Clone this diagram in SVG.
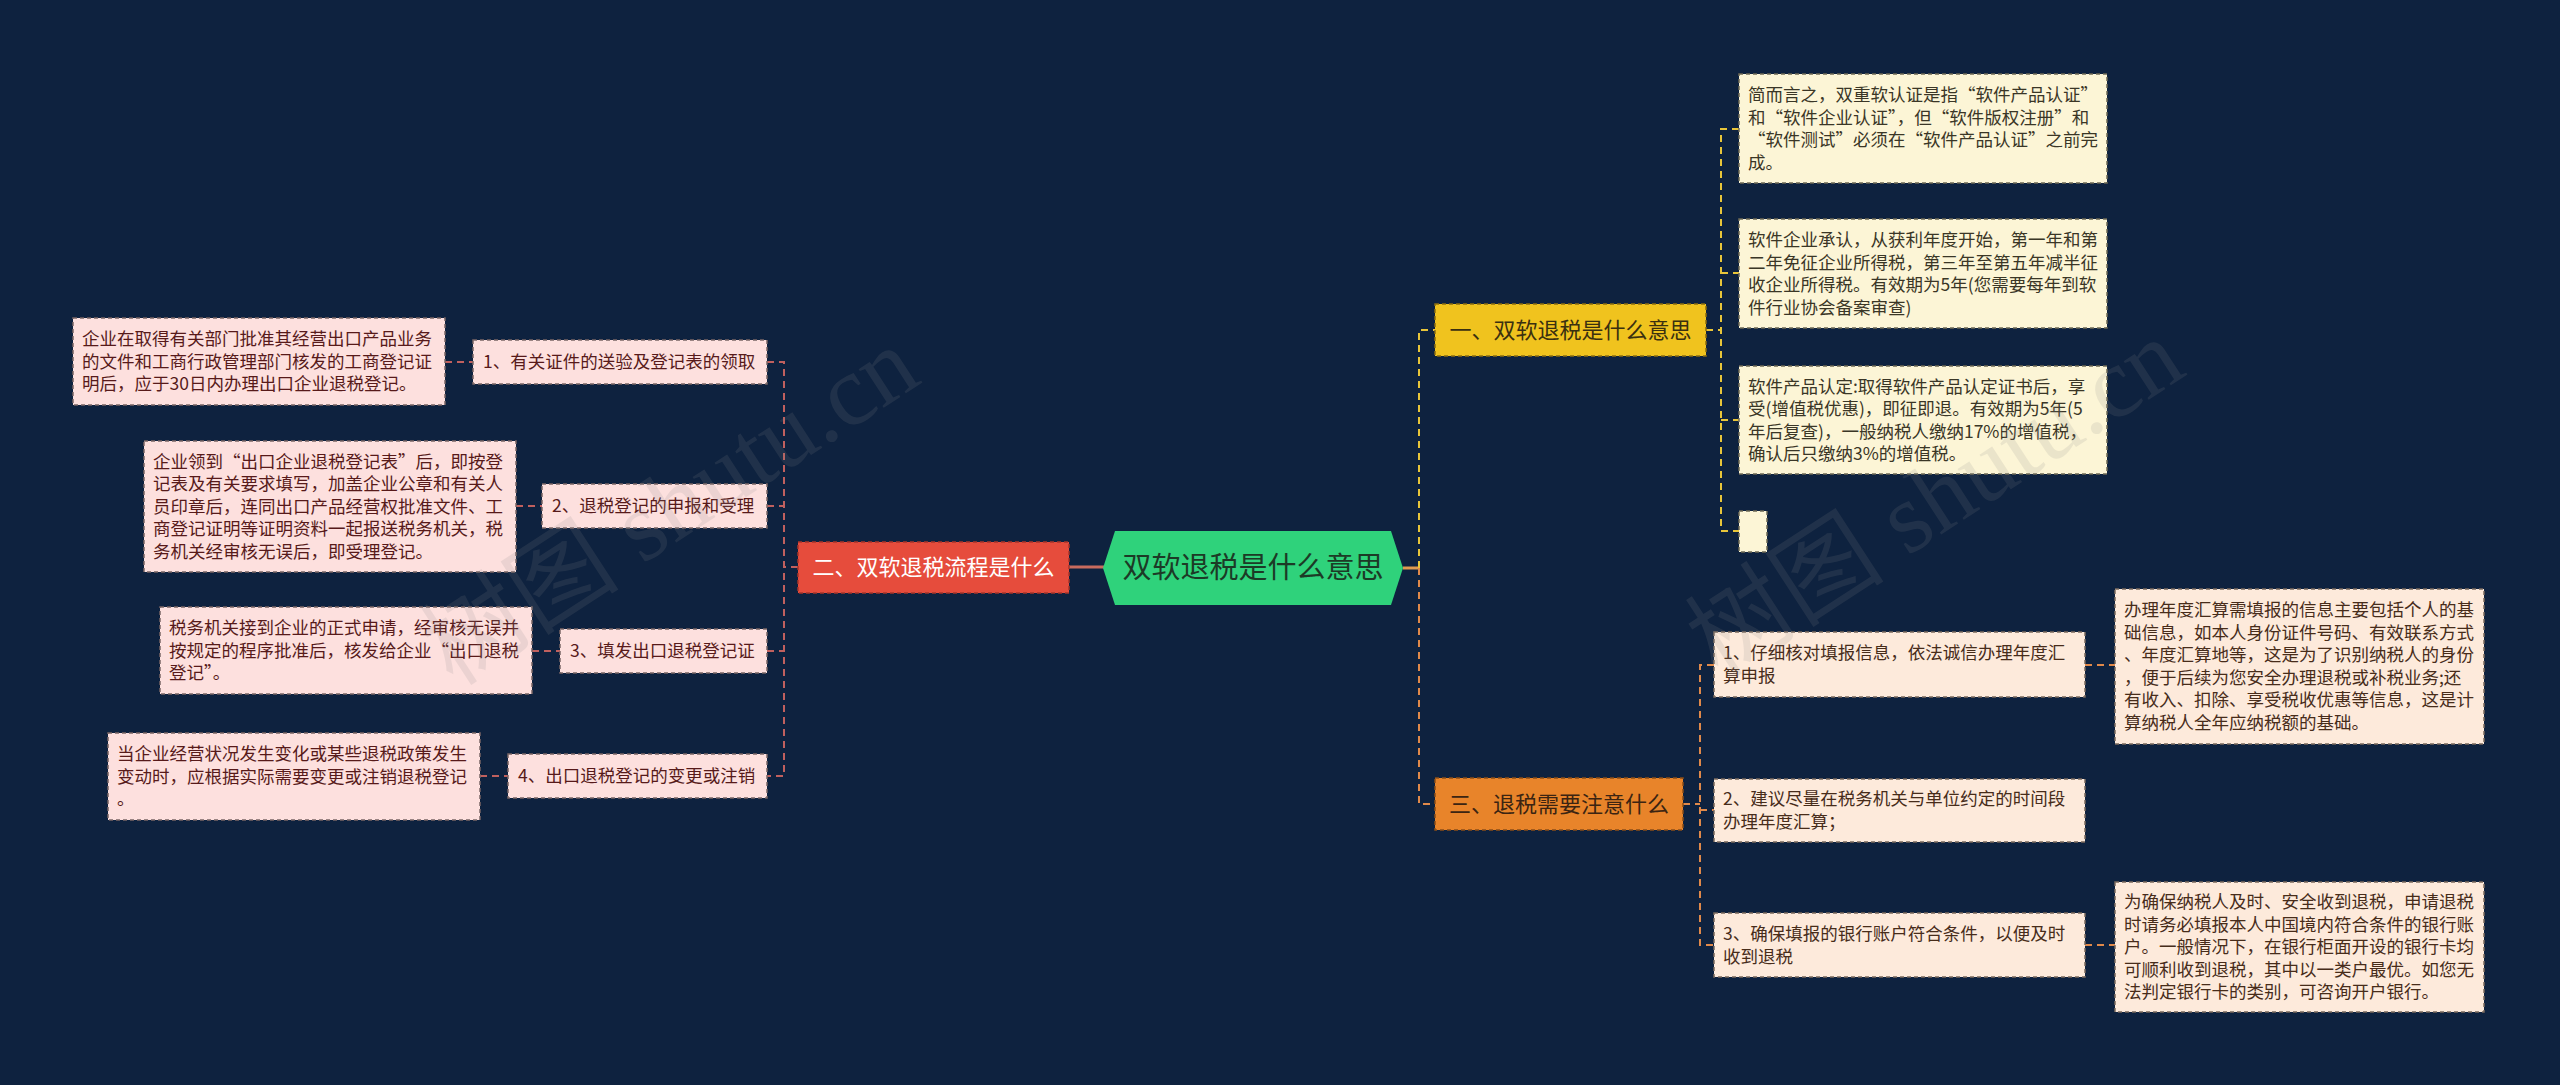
<svg xmlns="http://www.w3.org/2000/svg" width="2560" height="1085" viewBox="0 0 2560 1085">
<style>
text{font-family:"Noto Sans CJK SC","Noto Sans",sans-serif;}
.leaf{font-size:17.5px;}
.yl rect{fill:#fcf5d6;stroke:#6e6a55;stroke-width:1.5;stroke-dasharray:4 3;}
.yl text{fill:#3a3626;}
.ol rect{fill:#fdeadb;stroke:#7a6a5e;stroke-width:1.5;stroke-dasharray:4 3;}
.ol text{fill:#472c1a;}
.rl rect{fill:#fde0de;stroke:#7a6666;stroke-width:1.5;stroke-dasharray:4 3;}
.rl text{fill:#571a1a;}
.main{font-size:22px;}
.cy{stroke:#e8c53a;stroke-width:2;stroke-dasharray:7 5;fill:none;}
.co{stroke:#e0894a;stroke-width:2;stroke-dasharray:7 5;fill:none;}
.cr{stroke:#c0605e;stroke-width:2;stroke-dasharray:7 5;fill:none;}
.wm{font-family:"Liberation Serif","Noto Sans CJK SC",serif;font-size:100px;fill:#8a8a8a;opacity:0.15;}
</style>
<rect width="2560" height="1085" fill="#0e223f"/>

<g id="connectors">
  <line x1="1069" y1="567" x2="1104" y2="567" stroke="#c86b5e" stroke-width="3"/>
  <line x1="1403" y1="568" x2="1419" y2="568" stroke="#e09a50" stroke-width="3"/>
  <path class="cy" d="M1419 568 V330 H1435"/>
  <path class="co" d="M1419 568 V804 H1435"/>
  <path class="cy" d="M1706 330 H1721"/>
  <path class="cy" d="M1739 129 H1721 V531 H1739 M1721 273 H1739 M1721 420 H1739"/>
  <path class="co" d="M1683 804 H1700"/>
  <path class="co" d="M1714 665 H1700 V945 H1714 M1700 810 H1714"/>
  <path class="co" d="M2085 665 H2115 M2085 945 H2115"/>
  <path class="cr" d="M798 567 H784"/>
  <path class="cr" d="M767 362 H784 V776 H767 M767 506 H784 M767 651 H784"/>
  <path class="cr" d="M445 362 H473 M516 506 H542 M532 651 H560 M480 776 H508"/>
</g>

<g id="center">
  <polygon points="1103,568 1115,531 1391,531 1403,568 1391,605 1115,605" fill="#2fd27b"/>
  <text x="1253" y="578" text-anchor="middle" font-size="29" fill="#1c3a26">双软退税是什么意思</text>
</g>

<g id="n-red">
  <rect x="798" y="542" width="271" height="51" fill="#e64c3c" stroke="#a8352a" stroke-width="1.5" stroke-dasharray="4 3"/>
  <text class="main" x="933.5" y="575" text-anchor="middle" fill="#ffffff">二、双软退税流程是什么</text>
</g>
<g id="n-yellow">
  <rect x="1435" y="304" width="271" height="52" fill="#f0c31e" stroke="#8a6e10" stroke-width="1.5" stroke-dasharray="4 3"/>
  <text class="main" x="1570.5" y="338" text-anchor="middle" fill="#3a3010">一、双软退税是什么意思</text>
</g>
<g id="n-orange">
  <rect x="1435" y="778" width="248" height="52" fill="#e8842a" stroke="#8a4e18" stroke-width="1.5" stroke-dasharray="4 3"/>
  <text class="main" x="1559" y="812" text-anchor="middle" fill="#3b2412">三、退税需要注意什么</text>
</g>

<g id="y1" class="yl">
  <rect x="1739" y="74" width="368" height="109"/>
  <text class="leaf"><tspan x="1748" y="101">简而言之，双重软认证是指“软件产品认证”</tspan><tspan x="1748" y="123.5">和“软件企业认证”，但“软件版权注册”和</tspan><tspan x="1748" y="146">“软件测试”必须在“软件产品认证”之前完</tspan><tspan x="1748" y="168.5">成。</tspan></text>
</g>
<g id="y2" class="yl">
  <rect x="1739" y="219" width="368" height="109"/>
  <text class="leaf"><tspan x="1748" y="246">软件企业承认，从获利年度开始，第一年和第</tspan><tspan x="1748" y="268.5">二年免征企业所得税，第三年至第五年减半征</tspan><tspan x="1748" y="291">收企业所得税。有效期为5年(您需要每年到软</tspan><tspan x="1748" y="313.5">件行业协会备案审查)</tspan></text>
</g>
<g id="y3" class="yl">
  <rect x="1739" y="366" width="368" height="108"/>
  <text class="leaf"><tspan x="1748" y="392.5">软件产品认定:取得软件产品认定证书后，享</tspan><tspan x="1748" y="415">受(增值税优惠)，即征即退。有效期为5年(5</tspan><tspan x="1748" y="437.5">年后复查)，一般纳税人缴纳17%的增值税，</tspan><tspan x="1748" y="460">确认后只缴纳3%的增值税。</tspan></text>
</g>
<g id="y4" class="yl">
  <rect x="1739" y="511" width="28" height="41"/>
</g>

<g id="o1" class="ol">
  <rect x="1714" y="632" width="371" height="65"/>
  <text class="leaf"><tspan x="1723" y="659">1、仔细核对填报信息，依法诚信办理年度汇</tspan><tspan x="1723" y="681.5">算申报</tspan></text>
</g>
<g id="o2" class="ol">
  <rect x="1714" y="779" width="371" height="63"/>
  <text class="leaf"><tspan x="1723" y="805">2、建议尽量在税务机关与单位约定的时间段</tspan><tspan x="1723" y="827.5">办理年度汇算；</tspan></text>
</g>
<g id="o3" class="ol">
  <rect x="1714" y="913" width="371" height="64"/>
  <text class="leaf"><tspan x="1723" y="940">3、确保填报的银行账户符合条件，以便及时</tspan><tspan x="1723" y="962.5">收到退税</tspan></text>
</g>
<g id="d1" class="ol">
  <rect x="2115" y="589" width="369" height="155"/>
  <text class="leaf"><tspan x="2124" y="616">办理年度汇算需填报的信息主要包括个人的基</tspan><tspan x="2124" y="638.5">础信息，如本人身份证件号码、有效联系方式</tspan><tspan x="2124" y="661">、年度汇算地等，这是为了识别纳税人的身份</tspan><tspan x="2124" y="683.5">，便于后续为您安全办理退税或补税业务;还</tspan><tspan x="2124" y="706">有收入、扣除、享受税收优惠等信息，这是计</tspan><tspan x="2124" y="728.5">算纳税人全年应纳税额的基础。</tspan></text>
</g>
<g id="d3" class="ol">
  <rect x="2115" y="882" width="369" height="130"/>
  <text class="leaf"><tspan x="2124" y="908">为确保纳税人及时、安全收到退税，申请退税</tspan><tspan x="2124" y="930.5">时请务必填报本人中国境内符合条件的银行账</tspan><tspan x="2124" y="953">户。一般情况下，在银行柜面开设的银行卡均</tspan><tspan x="2124" y="975.5">可顺利收到退税，其中以一类户最优。如您无</tspan><tspan x="2124" y="998">法判定银行卡的类别，可咨询开户银行。</tspan></text>
</g>

<g id="l1" class="rl">
  <rect x="473" y="340" width="294" height="44"/>
  <text class="leaf" x="483" y="368">1、有关证件的送验及登记表的领取</text>
</g>
<g id="ld1" class="rl">
  <rect x="73" y="318" width="372" height="87"/>
  <text class="leaf"><tspan x="82" y="345">企业在取得有关部门批准其经营出口产品业务</tspan><tspan x="82" y="367.5">的文件和工商行政管理部门核发的工商登记证</tspan><tspan x="82" y="390">明后，应于30日内办理出口企业退税登记。</tspan></text>
</g>
<g id="l2" class="rl">
  <rect x="542" y="484" width="225" height="44"/>
  <text class="leaf" x="552" y="512">2、退税登记的申报和受理</text>
</g>
<g id="ld2" class="rl">
  <rect x="144" y="441" width="372" height="131"/>
  <text class="leaf"><tspan x="153" y="467.5">企业领到“出口企业退税登记表”后，即按登</tspan><tspan x="153" y="490">记表及有关要求填写，加盖企业公章和有关人</tspan><tspan x="153" y="512.5">员印章后，连同出口产品经营权批准文件、工</tspan><tspan x="153" y="535">商登记证明等证明资料一起报送税务机关，税</tspan><tspan x="153" y="557.5">务机关经审核无误后，即受理登记。</tspan></text>
</g>
<g id="l3" class="rl">
  <rect x="560" y="629" width="207" height="44"/>
  <text class="leaf" x="570" y="657">3、填发出口退税登记证</text>
</g>
<g id="ld3" class="rl">
  <rect x="160" y="607" width="372" height="87"/>
  <text class="leaf"><tspan x="169" y="634">税务机关接到企业的正式申请，经审核无误并</tspan><tspan x="169" y="656.5">按规定的程序批准后，核发给企业“出口退税</tspan><tspan x="169" y="679">登记”。</tspan></text>
</g>
<g id="l4" class="rl">
  <rect x="508" y="754" width="259" height="44"/>
  <text class="leaf" x="518" y="782">4、出口退税登记的变更或注销</text>
</g>
<g id="ld4" class="rl">
  <rect x="108" y="733" width="372" height="87"/>
  <text class="leaf"><tspan x="117" y="760">当企业经营状况发生变化或某些退税政策发生</tspan><tspan x="117" y="782.5">变动时，应根据实际需要变更或注销退税登记</tspan><tspan x="117" y="805">。</tspan></text>
</g>

<g id="watermarks">
  <text class="wm" x="670" y="540" text-anchor="middle" transform="rotate(-33 670 506)">树图 shutu.cn</text>
  <text class="wm" x="1935" y="532" text-anchor="middle" transform="rotate(-33 1935 498)">树图 shutu.cn</text>
</g>
</svg>
